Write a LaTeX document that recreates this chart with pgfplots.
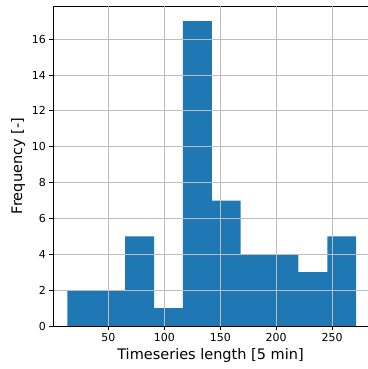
\documentclass[border=0pt]{standalone}
\usepackage{pgfplots}
\pgfplotsset{compat=1.18}
\usepackage{fontspec}
\setmainfont{DejaVu Sans}
\usetikzlibrary{calc}
\definecolor{mplblue}{HTML}{1F77B4}
\definecolor{gridgray}{HTML}{BDBDBD}
\begin{document}
\begin{tikzpicture}
\begin{axis}[
  name=ax,
  scale only axis,
  width=315pt, height=320pt,
  xmin=0.5, xmax=282,
  ymin=0, ymax=17.85,
  axis lines*=left,
  axis line style={black, line width=0.8pt},
  xtick={50,100,150,200,250},
  ytick={0,2,4,6,8,10,12,14,16},
  tick align=outside,
  major tick length=3.5pt,
  tick style={black, line width=0.8pt},
  grid=major,
  major grid style={gridgray, line width=0.8pt},
  axis on top,
  /pgf/number format/assume math mode=true,
  ticklabel style={font=\fontsize{11}{13}\selectfont},
  label style={font=\fontsize{14.5}{17}\selectfont},
  xlabel={Timeseries length [5 min]},
  ylabel={Frequency [-]},
  xlabel style={yshift=0pt},
  ylabel style={yshift=0pt},
]
\addplot[ybar interval, fill=mplblue, draw=none] coordinates {
(13.4,2) (39.2,2) (65.0,5) (90.8,1) (116.6,17) (142.4,7) (168.2,4) (194.0,4) (219.8,3) (245.6,5) (271.4,5)
};
\draw[black, line width=0.8pt] (rel axis cs:0,1) -- (rel axis cs:1,1);
\end{axis}
\pgfresetboundingbox
\path[use as bounding box] ($(ax.south west)+(-53pt,-43pt)$) rectangle ($(ax.north east)+(0pt,6pt)$);
\end{tikzpicture}
\end{document}
